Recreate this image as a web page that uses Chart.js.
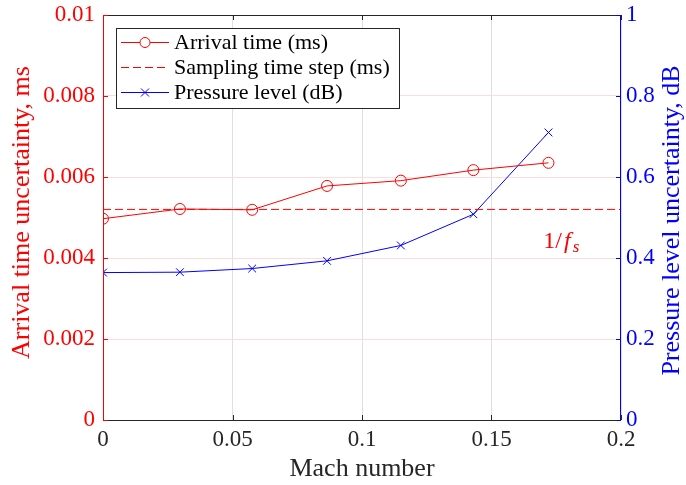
<!DOCTYPE html>
<html>
<head>
<meta charset="utf-8">
<script src="https://cdn.jsdelivr.net/npm/chart.js@4/dist/chart.umd.min.js"></script>
<style>
  html, body { margin: 0; padding: 0; background: #fff; }
  #wrap { width: 686px; height: 485px; }
</style>
</head>
<body>
<div id="wrap"><canvas id="chart"></canvas></div>
<script>
// DATA
const MACH = [0, 0.0297, 0.0576, 0.0865, 0.115, 0.143, 0.172];
const ARRIVAL_TIME = [0.00497, 0.00521, 0.00519, 0.00578, 0.00591, 0.00617, 0.00635];
const PRESSURE_LEVEL = [0.364, 0.365, 0.374, 0.393, 0.431, 0.508, 0.710];
const SAMPLING_X = [0, 0.2];
const SAMPLING_STEP = [0.0052, 0.0052];

const X_TICKS = [0, 0.05, 0.1, 0.15, 0.2];
const LEFT_TICKS = [0, 0.002, 0.004, 0.006, 0.008, 0.01];
const RIGHT_TICKS = [0, 0.2, 0.4, 0.6, 0.8, 1];

const LEGEND_LABELS = ["Arrival time (ms)", "Sampling time step (ms)", "Pressure level (dB)"];
const LEFT_TITLE = "Arrival time uncertainty, ms";
const RIGHT_TITLE = "Pressure level uncertainty, dB";
const X_TITLE = "Mach number";

const RED = "#ff0000";
const BLUE = "#0000ff";
const DARK = "#262626";
const FONT = "'Liberation Serif', 'Times New Roman', serif";

function pts(xs, ys) {
  return xs.map((x, i) => ({ x: x, y: ys[i] }));
}

function fixTicks(list) {
  return scale => { scale.ticks = list.map(v => ({ value: v })); };
}

// BOX, INWARD TICKS, TITLES, LEGEND, ANNOTATION
const decorations = {
  id: "decorations",
  afterDraw(chart) {
    const ctx = chart.ctx;
    const a = chart.chartArea;
    const sx = chart.scales.x, sy = chart.scales.y, sy1 = chart.scales.y1;
    const T = 5;
    ctx.save();
    ctx.lineWidth = 1;

    // top + bottom
    ctx.strokeStyle = DARK;
    ctx.beginPath();
    ctx.moveTo(a.left, a.top + 0.5); ctx.lineTo(a.right, a.top + 0.5);
    ctx.moveTo(a.left, a.bottom + 0.5); ctx.lineTo(a.right, a.bottom + 0.5);
    X_TICKS.forEach(v => {
      const px = Math.round(sx.getPixelForValue(v)) + 0.5;
      ctx.moveTo(px, a.bottom); ctx.lineTo(px, a.bottom - T);
      ctx.moveTo(px, a.top); ctx.lineTo(px, a.top + T);
    });
    ctx.stroke();

    // left (red)
    ctx.strokeStyle = RED;
    ctx.beginPath();
    ctx.moveTo(a.left + 0.5, a.top); ctx.lineTo(a.left + 0.5, a.bottom + 1);
    LEFT_TICKS.forEach(v => {
      const py = Math.round(sy.getPixelForValue(v)) + 0.5;
      ctx.moveTo(a.left, py); ctx.lineTo(a.left + T, py);
    });
    ctx.stroke();

    // right (blue)
    ctx.strokeStyle = BLUE;
    ctx.beginPath();
    ctx.moveTo(a.right - 0.5, a.top); ctx.lineTo(a.right - 0.5, a.bottom + 1);
    RIGHT_TICKS.forEach(v => {
      const py = Math.round(sy1.getPixelForValue(v)) + 0.5;
      ctx.moveTo(a.right, py); ctx.lineTo(a.right - T, py);
    });
    ctx.stroke();

    // y titles (both read bottom to top)
    ctx.font = "26px " + FONT;
    ctx.textAlign = "center";
    ctx.textBaseline = "middle";
    ctx.fillStyle = RED;
    ctx.save();
    ctx.translate(22, (a.top + a.bottom) / 2 - 5);
    ctx.rotate(-Math.PI / 2);
    ctx.fillText(LEFT_TITLE, 0, 0);
    ctx.restore();
    ctx.fillStyle = BLUE;
    ctx.save();
    ctx.translate(672, (a.top + a.bottom) / 2 + 3);
    ctx.rotate(-Math.PI / 2);
    ctx.fillText(RIGHT_TITLE, 0, 0);
    ctx.restore();

    // 1/f_s annotation
    const ax = sx.getPixelForValue(0.17);
    const ay = sy.getPixelForValue(0.00425);
    ctx.fillStyle = RED;
    ctx.textAlign = "left";
    ctx.textBaseline = "alphabetic";
    ctx.font = "24px " + FONT;
    ctx.fillText("1/", ax, ay);
    let w = ctx.measureText("1/").width;
    ctx.font = "italic 24px " + FONT;
    ctx.fillText("f", ax + w + 2, ay);
    w += ctx.measureText("f").width + 4;
    ctx.font = "italic 17px " + FONT;
    ctx.fillText("s", ax + w, ay + 4);

    // legend
    const lx = a.left + 13, ly = a.top + 13, lw = 283, lh = 80;
    ctx.fillStyle = "#fff";
    ctx.fillRect(lx, ly, lw, lh);
    ctx.strokeStyle = DARK;
    ctx.strokeRect(lx + 0.5, ly + 0.5, lw, lh);
    const rows = [ly + 14, ly + 39, ly + 64];
    ctx.font = "22px " + FONT;
    ctx.textBaseline = "middle";
    rows.forEach((ry, i) => {
      const color = i < 2 ? RED : BLUE;
      ctx.strokeStyle = color;
      ctx.setLineDash(i === 1 ? [8, 4] : []);
      ctx.beginPath();
      ctx.moveTo(lx + 5, ry + 0.5); ctx.lineTo(lx + 53, ry + 0.5);
      ctx.stroke();
      ctx.setLineDash([]);
      if (i === 0) {
        ctx.beginPath();
        ctx.arc(lx + 29, ry + 0.5, 5, 0, Math.PI * 2);
        ctx.fillStyle = "#fff";
        ctx.fill();
        ctx.stroke();
      } else if (i === 2) {
        ctx.beginPath();
        ctx.moveTo(lx + 25, ry - 3.5); ctx.lineTo(lx + 33, ry + 4.5);
        ctx.moveTo(lx + 33, ry - 3.5); ctx.lineTo(lx + 25, ry + 4.5);
        ctx.stroke();
      }
      ctx.fillStyle = "#000";
      ctx.fillText(LEGEND_LABELS[i], lx + 58, ry + 1);
    });
    ctx.restore();
  }
};

Chart.defaults.font.family = FONT;

new Chart(document.getElementById("chart"), {
  type: "line",
  data: {
    datasets: [{
      label: LEGEND_LABELS[0],
      data: pts(MACH, ARRIVAL_TIME),
      yAxisID: "y",
      borderColor: RED,
      backgroundColor: "rgba(0,0,0,0)",
      borderWidth: 1,
      pointStyle: "circle",
      pointRadius: 5.5,
      pointBorderWidth: 1,
      pointBorderColor: RED,
      pointBackgroundColor: "rgba(0,0,0,0)"
    }, {
      label: LEGEND_LABELS[1],
      data: pts(SAMPLING_X, SAMPLING_STEP),
      yAxisID: "y",
      borderColor: RED,
      borderWidth: 1,
      borderDash: [8, 4],
      pointRadius: 0
    }, {
      label: LEGEND_LABELS[2],
      data: pts(MACH, PRESSURE_LEVEL),
      yAxisID: "y1",
      borderColor: BLUE,
      borderWidth: 1,
      pointStyle: "crossRot",
      pointRadius: 5.5,
      pointBorderWidth: 1,
      pointBorderColor: BLUE
    }]
  },
  options: {
    responsive: true,
    maintainAspectRatio: false,
    animation: false,
    layout: { padding: { top: 15, left: 0, right: 0, bottom: 0 } },
    plugins: { legend: { display: false }, tooltip: { enabled: false } },
    scales: {
      x: {
        type: "linear",
        min: 0, max: 0.2,
        afterBuildTicks: fixTicks(X_TICKS),
        afterFit: s => { s.height = 65; s.paddingLeft = 0; s.paddingRight = 0; },
        border: { display: false },
        grid: { color: "#dfdfdf", drawTicks: false },
        ticks: { color: DARK, font: { size: 23 }, padding: 6, maxRotation: 0, callback: v => String(v) },
        title: { display: true, text: X_TITLE, color: DARK, font: { size: 26 }, padding: { top: 0, bottom: 0 } }
      },
      y: {
        type: "linear",
        position: "left",
        min: 0, max: 0.01,
        afterBuildTicks: fixTicks(LEFT_TICKS),
        afterFit: s => { s.width = 103; s.paddingTop = 0; s.paddingBottom = 0; },
        border: { display: false },
        grid: { color: "#ffdcdc", drawTicks: false },
        ticks: { color: RED, font: { size: 23 }, padding: 8, callback: v => String(v) }
      },
      y1: {
        type: "linear",
        position: "right",
        min: 0, max: 1,
        afterBuildTicks: fixTicks(RIGHT_TICKS),
        afterFit: s => { s.width = 65; s.paddingTop = 0; s.paddingBottom = 0; },
        border: { display: false },
        grid: { display: false, drawTicks: false },
        ticks: { color: BLUE, font: { size: 23 }, padding: 5, callback: v => String(v) }
      }
    }
  },
  plugins: [decorations]
});
</script>
</body>
</html>
